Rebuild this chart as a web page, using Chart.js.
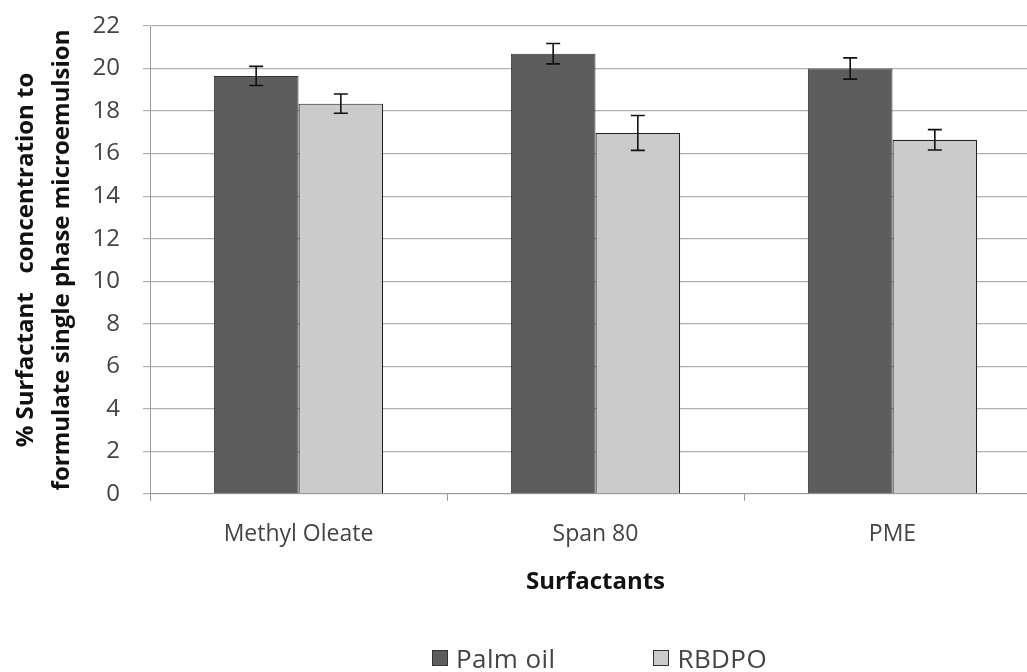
<!DOCTYPE html>
<html>
<head>
<meta charset="utf-8">
<script src="https://cdn.jsdelivr.net/npm/chart.js@4"></script>
<style>
  html, body { margin: 0; padding: 0; background: #fff; overflow: hidden; }
  #wrap { position: relative; width: 1045px; height: 672px; }
  #legend { position: absolute; top: 643px; left: 432px; display: flex; gap: 98px; line-height: 30px;
    font-family: "Open Sans", sans-serif; font-size: 26px; color: #444; letter-spacing: 0.4px; }
  #legend span.item { display: flex; align-items: center; }
  #legend span.box { display: inline-block; width: 14px; height: 14px; border: 1px solid #333; margin-right: 8px; }
</style>
</head>
<body>
<div id="wrap">
  <canvas id="chart" width="1045" height="672"></canvas>
  <div id="legend"></div>
</div>
<script>
const categories = ['Methyl Oleate', 'Span 80', 'PME'];
const seriesNames = ['Palm oil', 'RBDPO'];
const palmOil = [19.65, 20.7, 20.0];
const palmOilErr = [0.45, 0.48, 0.5];
const rbdpo = [18.35, 16.97, 16.65];
const rbdpoErr = [0.45, 0.82, 0.48];
const yTicks = [0, 2, 4, 6, 8, 10, 12, 14, 16, 18, 20, 22];
const colors = ['#5d5d5d', '#cbcbcb'];

// draws the +/- error whiskers on top of each bar
const errorBars = {
  id: 'errorBars',
  afterDatasetsDraw(chart) {
    const ctx = chart.ctx;
    const y = chart.scales.y;
    ctx.save();
    ctx.strokeStyle = '#111';
    ctx.lineWidth = 1.6;
    chart.data.datasets.forEach((ds, i) => {
      const meta = chart.getDatasetMeta(i);
      meta.data.forEach((bar, j) => {
        const top = y.getPixelForValue(ds.data[j] + ds.err[j]);
        const bot = y.getPixelForValue(ds.data[j] - ds.err[j]);
        ctx.beginPath();
        ctx.moveTo(bar.x, top); ctx.lineTo(bar.x, bot);
        ctx.moveTo(bar.x - 7, top); ctx.lineTo(bar.x + 7, top);
        ctx.moveTo(bar.x - 7, bot); ctx.lineTo(bar.x + 7, bot);
        ctx.stroke();
      });
    });
    ctx.restore();
  }
};

const chart = new Chart(document.getElementById('chart'), {
  type: 'bar',
  data: {
    labels: categories,
    datasets: [
      { label: seriesNames[0], data: palmOil, err: palmOilErr, backgroundColor: colors[0], borderColor: '#333', borderWidth: 1 },
      { label: seriesNames[1], data: rbdpo, err: rbdpoErr, backgroundColor: colors[1], borderColor: '#222', borderWidth: 1.2 }
    ]
  },
  options: {
    responsive: false,
    animation: false,
    layout: { padding: { left: 4, right: 4, top: 26, bottom: 71 } },
    datasets: { bar: { categoryPercentage: 0.57, barPercentage: 1 } },
    plugins: { legend: { display: false }, tooltip: { enabled: false } },
    scales: {
      x: {
        grid: { drawOnChartArea: false, color: '#999', tickLength: 7 },
        border: { color: '#999' },
        ticks: { color: '#444', font: { family: 'Open Sans', size: 23, lineHeight: 1.1 }, padding: 21 },
        title: { display: true, text: 'Surfactants', color: '#111', font: { family: 'Open Sans', size: 24, weight: 'bold' }, padding: { top: 0 } }
      },
      y: {
        min: 0, max: 22,
        afterBuildTicks: axis => { axis.ticks = yTicks.map(v => ({ value: v })); },
        afterFit: axis => { axis.width = 146; axis.paddingTop = 0; axis.paddingBottom = 0; },
        grid: { color: '#b0b0b0', tickLength: 7, lineWidth: 1.2 },
        border: { color: '#999' },
        ticks: { color: '#444', font: { family: 'Open Sans', size: 24 }, padding: 23 },
        title: {
          display: true,
          text: ['% Surfactant   concentration to', 'formulate single phase microemulsion'],
          color: '#111',
          font: { family: 'Open Sans', size: 24, weight: 'bold', lineHeight: 1.5 },
          padding: { bottom: 4 }
        }
      }
    }
  },
  plugins: [errorBars]
});

const legend = document.getElementById('legend');
seriesNames.forEach((name, i) => {
  const item = document.createElement('span');
  item.className = 'item';
  item.innerHTML = '<span class="box" style="background:' + colors[i] + '"></span>' + name;
  legend.appendChild(item);
});
</script>
</body>
</html>
